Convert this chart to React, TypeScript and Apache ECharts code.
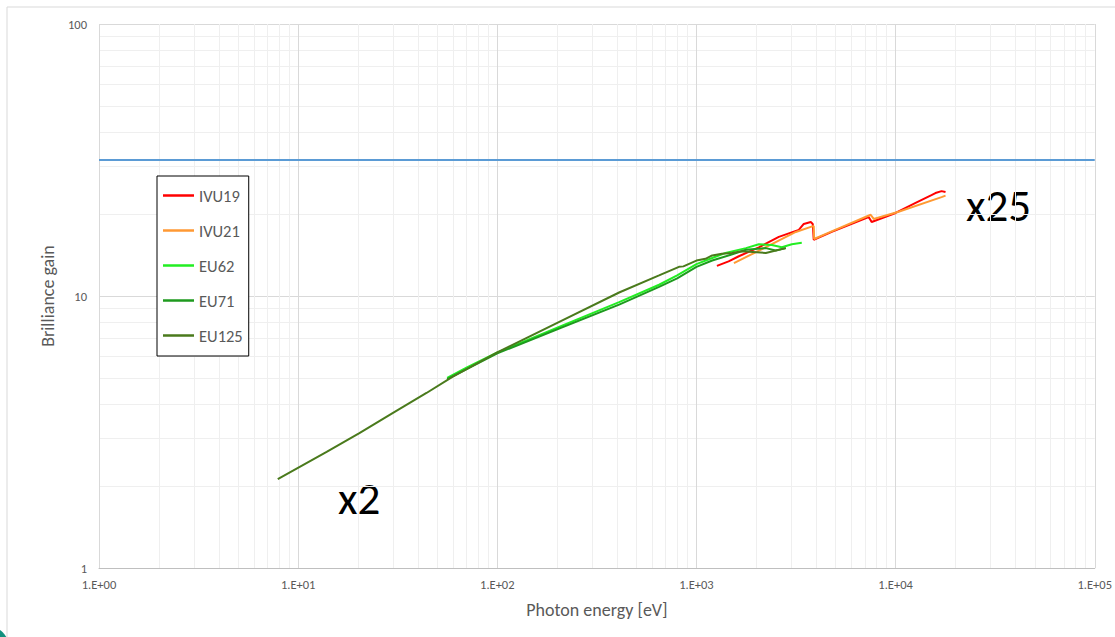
import React, { useEffect, useRef } from "react";
import * as echarts from "echarts";

// Photon energy [eV] and brilliance gain, per undulator
const ivu19: [number, number][] = [
  [1267, 12.9], [1450, 13.4], [1633, 14.0], [2057, 15.1], [2592, 16.5], [3265, 17.5],
  [3458, 18.4], [3750, 18.7], [3838, 18.4], [3880, 16.1], [4779, 17.2], [7324, 19.5],
  [7495, 19.0], [7580, 18.7], [10000, 20.2], [12600, 22.0], [15140, 23.5], [15850, 23.9],
  [17010, 24.3], [17810, 24.1],
];
const ivu21: [number, number][] = [
  [1542, 13.2], [3155, 17.2], [3880, 18.1], [3900, 16.2], [4617, 17.1], [7495, 19.9],
  [7762, 19.2], [10350, 20.4], [17010, 23.1], [17810, 23.4],
];
const eu62: [number, number][] = [
  [56, 5.0], [70, 5.45], [100, 6.2], [200, 7.65], [409, 9.5], [649, 11.0], [800, 11.9],
  [1000, 13.1], [1200, 13.8], [1400, 14.4], [1771, 15.0], [2057, 15.5], [2390, 15.4],
  [2684, 15.1], [3013, 15.5], [3380, 15.7],
];
const eu71: [number, number][] = [
  [56, 4.95], [100, 6.15], [200, 7.55], [409, 9.3], [649, 10.8], [800, 11.6], [1000, 12.8],
  [1200, 13.5], [1500, 14.2], [1771, 14.8], [2230, 15.0], [2500, 14.7], [2810, 15.0],
];
const eu125: [number, number][] = [
  [7.9, 2.12], [13.9, 2.67], [20.3, 3.13], [29.8, 3.71], [44.1, 4.4], [59.5, 5.04],
  [100, 6.2], [200, 7.96], [409, 10.3], [649, 11.9], [817, 12.8], [860, 12.85], [1000, 13.5],
  [1110, 13.7], [1200, 14.1], [1342, 14.3], [1506, 14.4], [1690, 14.6], [2230, 14.4],
  [2810, 15.0],
];
// Upper bound line
const gainLimit = 31.62;
const energyRange: [number, number] = [1, 100000];
const gainRange: [number, number] = [1, 100];

const seriesNames = ["IVU19", "IVU21", "EU62", "EU71", "EU125"];
const seriesColors = ["#FF0000", "#FF9933", "#22EE22", "#1E9A1E", "#4A7A1C"];
const seriesData = [ivu19, ivu21, eu62, eu71, eu125];

const FONT = "Carlito, Calibri, Lato, sans-serif";

export default function App() {
  const ref = useRef<HTMLDivElement>(null);

  useEffect(() => {
    if (!ref.current) return;
    const chart = echarts.init(ref.current, undefined, { renderer: "svg" });

    const expLabel = (v: number) =>
      "1.E+" + String(Math.round(Math.log10(v))).padStart(2, "0");

    chart.setOption({
      animation: false,
      textStyle: { fontFamily: FONT },
      grid: { left: 99, right: 19, top: 24, bottom: 69 },
      graphic: [
        {
          type: "rect",
          shape: { x: 7, y: 7, width: 1130, height: 650 },
          style: { fill: "none", stroke: "#d9d9d9", lineWidth: 1 },
          silent: true,
          z: -1,
        },
        {
          type: "circle",
          shape: { cx: -15, cy: 650, r: 25 },
          style: { fill: "#13917F" },
          silent: true,
        },
        {
          type: "text",
          left: 338,
          top: 476,
          style: { text: "x2", fontSize: 45, fontFamily: FONT, fill: "#000" },
        },
        {
          type: "text",
          left: 966,
          top: 183,
          style: { text: "x25", fontSize: 45, fontFamily: FONT, fill: "#000" },
        },
      ],
      legend: {
        orient: "vertical",
        left: 157,
        top: 176,
        data: seriesNames,
        icon: "rect",
        itemWidth: 31,
        itemHeight: 2.5,
        itemGap: 18,
        padding: [11, 6, 12, 6],
        borderColor: "#000",
        borderWidth: 1,
        backgroundColor: "#fff",
        textStyle: { color: "#595959", fontSize: 16.5, fontFamily: FONT },
      },
      xAxis: {
        type: "log",
        logBase: 10,
        min: energyRange[0],
        max: energyRange[1],
        name: "Photon energy [eV]",
        nameLocation: "middle",
        nameGap: 33,
        nameTextStyle: { color: "#595959", fontSize: 18, fontFamily: FONT },
        axisLine: { show: true, lineStyle: { color: "#bfbfbf", width: 1 } },
        axisTick: { show: false },
        axisLabel: { color: "#595959", fontSize: 12.5, margin: 10, formatter: expLabel },
        splitLine: { show: true, lineStyle: { color: "#d9d9d9", width: 1 } },
        minorTick: { show: false, splitNumber: 9 },
        minorSplitLine: { show: true, lineStyle: { color: "#efefef", width: 1 } },
      },
      yAxis: {
        type: "log",
        logBase: 10,
        min: gainRange[0],
        max: gainRange[1],
        name: "Brilliance gain",
        nameLocation: "middle",
        nameGap: 41,
        nameTextStyle: { color: "#595959", fontSize: 18, fontFamily: FONT },
        axisLine: { show: false },
        axisTick: { show: false },
        axisLabel: { color: "#595959", fontSize: 12.5, margin: 12 },
        splitLine: { show: true, lineStyle: { color: "#d9d9d9", width: 1 } },
        minorTick: { show: false, splitNumber: 9 },
        minorSplitLine: { show: true, lineStyle: { color: "#efefef", width: 1 } },
      },
      series: [
        {
          name: "limit",
          type: "line",
          data: [
            [energyRange[0], gainLimit],
            [energyRange[1], gainLimit],
          ],
          showSymbol: false,
          silent: true,
          lineStyle: { color: "#5B9BD5", width: 2 },
          itemStyle: { color: "#5B9BD5" },
        },
        ...seriesNames.map((name, i) => ({
          name,
          type: "line",
          data: seriesData[i],
          showSymbol: false,
          lineStyle: { color: seriesColors[i], width: 2 },
          itemStyle: { color: seriesColors[i] },
        })),
      ],
    });

    return () => chart.dispose();
  }, []);

  return (
    <div
      ref={ref}
      style={{ position: "fixed", left: 0, top: 0, width: 1115, height: 637, background: "#fff" }}
    />
  );
}
